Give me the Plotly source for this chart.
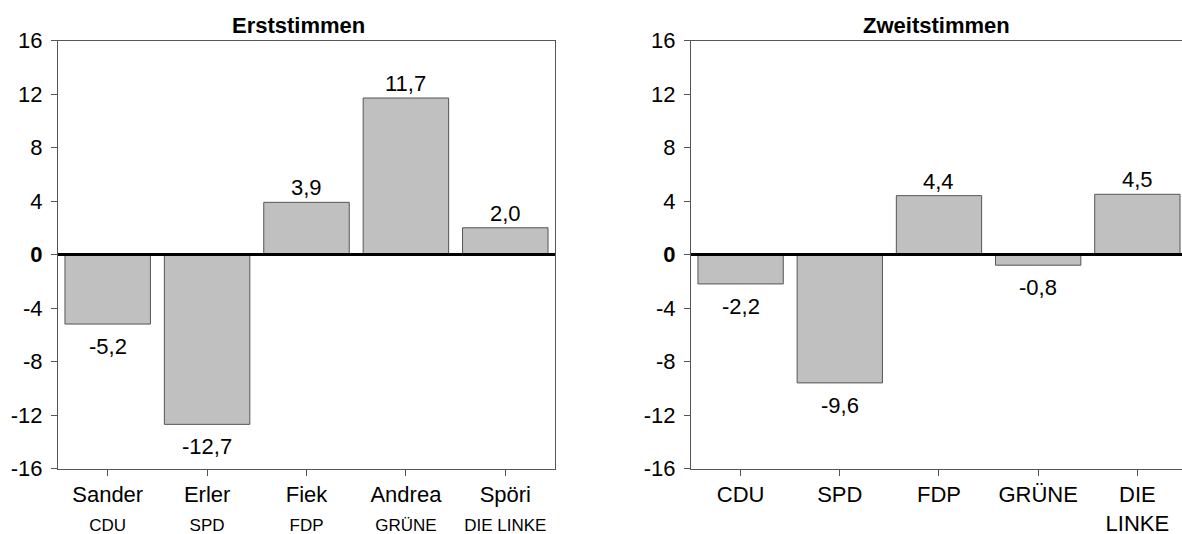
import plotly.graph_objects as go

# Erststimmen: candidate gains/losses (percentage points)
candidates = ["Sander", "Erler", "Fiek", "Andrea", "Spöri"]
candidate_parties = ["CDU", "SPD", "FDP", "GRÜNE", "DIE LINKE"]
erst_values = [-5.2, -12.7, 3.9, 11.7, 2.0]

# Zweitstimmen: party gains/losses (percentage points)
parties = ["CDU", "SPD", "FDP", "GRÜNE", "DIE<br>LINKE"]
zweit_values = [-2.2, -9.6, 4.4, -0.8, 4.5]

y_ticks = [16, 12, 8, 4, 0, -4, -8, -12, -16]

FONT = "Liberation Sans, Arial, sans-serif"
BAR_COLOR = "#c0c0c0"
EDGE = "#555555"
W, H = 1182, 534


def fmt(v):
    return f"{v:.1f}".replace(".", ",")


def tick_text(v):
    return "<b>0</b>" if v == 0 else str(v)


left_labels = [
    f"{c}<br><span style='font-size:17px'>{p}</span>"
    for c, p in zip(candidates, candidate_parties)
]

fig = go.Figure()
fig.add_trace(go.Bar(
    x=list(range(len(candidates))), y=erst_values, width=0.86,
    marker=dict(color=BAR_COLOR, line=dict(color=EDGE, width=1)),
    xaxis="x", yaxis="y", showlegend=False, hoverinfo="skip",
))
fig.add_trace(go.Bar(
    x=list(range(len(parties))), y=zweit_values, width=0.86,
    marker=dict(color=BAR_COLOR, line=dict(color=EDGE, width=1)),
    xaxis="x2", yaxis="y2", showlegend=False, hoverinfo="skip",
))

annotations = []
for xr, yr, vals in (("x", "y", erst_values), ("x2", "y2", zweit_values)):
    for i, v in enumerate(vals):
        annotations.append(dict(
            x=i, y=v, xref=xr, yref=yr, text=fmt(v), showarrow=False,
            yanchor="bottom" if v >= 0 else "top",
            yshift=0 if v >= 0 else -8,
            font=dict(family=FONT, size=22, color="#000"),
        ))

for label, cx in (("Erststimmen", 298), ("Zweitstimmen", 936)):
    annotations.append(dict(
        x=cx / W, y=1 - 25 / H, xref="paper", yref="paper",
        xanchor="center", yanchor="middle",
        text=f"<b>{label}</b>", showarrow=False,
        font=dict(family=FONT, size=22, color="#000"),
    ))

y_dom = [1 - 468.5 / H, 1 - 40.5 / H]
axis_common = dict(
    showline=True, linecolor=EDGE, linewidth=1, showgrid=False, zeroline=False,
    ticks="outside", ticklen=6, tickcolor=EDGE, automargin=False,
    tickfont=dict(family=FONT, size=22, color="#000"),
)

fig.update_layout(
    width=W, height=H,
    margin=dict(l=0, r=0, t=0, b=0),
    paper_bgcolor="white", plot_bgcolor="white",
    xaxis=dict(
        domain=[58 / W, 555 / W], range=[-0.5, 4.5],
        tickvals=list(range(len(candidates))), ticktext=left_labels,
        mirror=True, anchor="y", **axis_common,
    ),
    yaxis=dict(
        domain=y_dom, range=[-16, 16],
        tickvals=y_ticks, ticktext=[tick_text(v) for v in y_ticks],
        mirror=True, anchor="x", ticklabelstandoff=4, **axis_common,
    ),
    xaxis2=dict(
        domain=[691 / W, 1.0], range=[-0.5, 4.45],
        tickvals=list(range(len(parties))), ticktext=parties,
        mirror=True, anchor="y2", **axis_common,
    ),
    yaxis2=dict(
        domain=y_dom, range=[-16, 16],
        tickvals=y_ticks, ticktext=[tick_text(v) for v in y_ticks],
        mirror=False, anchor="x2", ticklabelstandoff=4, **axis_common,
    ),
    annotations=annotations,
    shapes=[
        dict(type="line", xref="x domain", yref="y", x0=0, x1=1, y0=0, y1=0,
             line=dict(color="#000", width=3), layer="above"),
        dict(type="line", xref="x2 domain", yref="y2", x0=0, x1=1, y0=0, y1=0,
             line=dict(color="#000", width=3), layer="above"),
    ],
)

fig.write_html("out.html")
